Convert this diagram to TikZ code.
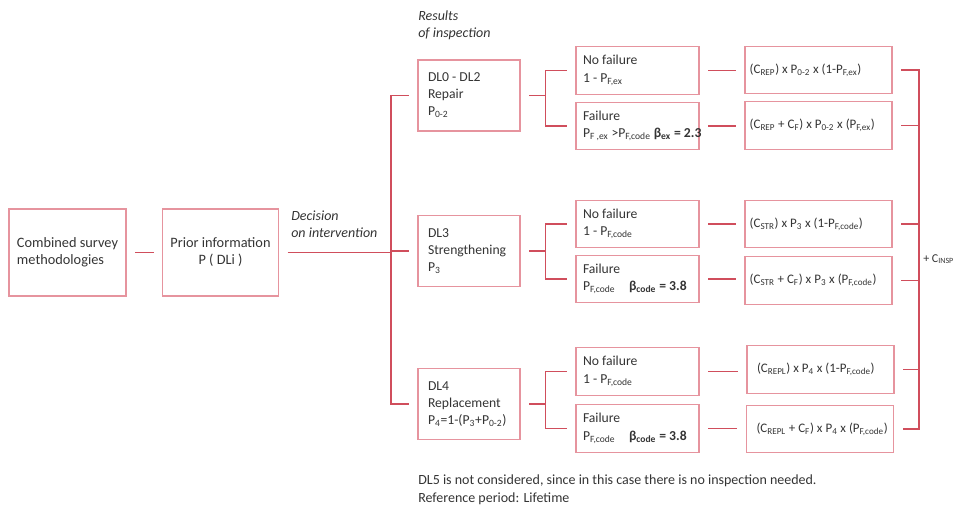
\documentclass[tikz,border=0pt]{standalone}
\usepackage{fontspec}
\setmainfont{Carlito}
\usetikzlibrary{calc}
\definecolor{linkred}{RGB}{208,78,92}
\definecolor{boxred}{RGB}{230,148,158}
\definecolor{textgray}{RGB}{52,52,52}
\tikzset{
  box/.style={
    draw=boxred,
    line width=0.9pt,
    text=textgray,
    outer xsep=7pt,
    outer ysep=0pt,
    inner ysep=1pt
  },
  box-main/.style={box, minimum width=86.5pt, minimum height=65.25pt,
    font=\fontsize{10.75}{12.75}\selectfont},
  box-dl/.style={box, text width=61.5pt, inner xsep=7.5pt, align=flush left,
    minimum height=53.25pt, font=\fontsize{10.25}{12.75}\selectfont},
  box-out/.style={box, text width=81.75pt, inner xsep=5.25pt, align=flush left,
    minimum height=35.6pt, font=\fontsize{10.25}{13}\selectfont},
  box-cost/.style={box, text width=103.25pt, inner xsep=3.5pt, align=flush left,
    minimum height=35.6pt, font=\fontsize{9.75}{12}\selectfont},
  link/.style={draw=linkred, line width=1pt},
  label-it/.style={text=textgray, inner sep=0pt, align=left,
    font=\itshape\fontsize{10.5}{12.75}\selectfont},
  label-note/.style={text=textgray, inner sep=0pt, align=left,
    font=\fontsize{10.5}{13.5}\selectfont}
}

\begin{document}
\begin{tikzpicture}[x=0.75pt, y=-0.75pt]
  \useasboundingbox (0,0) rectangle (958,517);

  % Left part
  \node[box-main, minimum width=87.75pt, align=left] (survey) at (67.5,252.5)
    {Combined survey\\methodologies};
  \node[box-main, align=center] (prior) at (220.5,252.5)
    {Prior information\\P ( DLi )};
  \node[label-it, anchor=north west] (decision) at (291,211)
    {Decision\\on intervention};

  % Damage levels
  \node[label-it, anchor=north west] (results) at (418,11)
    {Results\\of inspection};
  \node[box-dl] (dl0) at (469,95.5) {DL0 - DL2\\Repair\\P\textsubscript{0-2}};
  \node[box-dl] (dl3) at (469,251) {DL3\\Strengthening\\P\textsubscript{3}};
  \node[box-dl] (dl4) at (469,404)
    {DL4\\Replacement\\\mbox{P\textsubscript{4}=1-(P\textsubscript{3}+P\textsubscript{0-2})}};

  % Outcomes
  \node[box-out] (nf0) at (637.5,70.5) {No failure\\1 - P\textsubscript{F,ex}};
  \node[box-out] (f0) at (637.5,126)
    {Failure\\\mbox{P\textsubscript{F ,ex} >P\textsubscript{F,code} \textbf{β\textsubscript{ex} = 2.3}}};
  \node[box-out] (nf3) at (637.5,224) {No failure\\1 - P\textsubscript{F,code}};
  \node[box-out] (f3) at (637.5,279)
    {Failure\\\mbox{P\textsubscript{F,code}\quad\textbf{β\textsubscript{code} = 3.8}}};
  \node[box-out] (nf4) at (637.5,371.5) {No failure\\1 - P\textsubscript{F,code}};
  \node[box-out] (f4) at (637.5,428.5)
    {Failure\\\mbox{P\textsubscript{F,code}\quad\textbf{β\textsubscript{code} = 3.8}}};

  % Costs
  \node[box-cost] (cost-nf0) at (818.5,70)
    {\mbox{(C\textsubscript{REP}) x P\textsubscript{0-2} x (1-P\textsubscript{F,ex})}};
  \node[box-cost] (cost-f0) at (818.5,125.5)
    {\mbox{(C\textsubscript{REP} + C\textsubscript{F}) x P\textsubscript{0-2} x (P\textsubscript{F,ex})}};
  \node[box-cost] (cost-nf3) at (818.5,224)
    {\mbox{(C\textsubscript{STR}) x P\textsubscript{3} x (1-P\textsubscript{F,code})}};
  \node[box-cost] (cost-f3) at (818.5,280.5)
    {\mbox{(C\textsubscript{STR} + C\textsubscript{F}) x P\textsubscript{3} x (P\textsubscript{F,code})}};
  \node[box-cost] (cost-nf4) at (820.5,369.5)
    {\mbox{\hspace{4pt}(C\textsubscript{REPL}) x P\textsubscript{4} x (1-P\textsubscript{F,code})}};
  \node[box-cost] (cost-f4) at (820,429)
    {\mbox{\hspace{4pt}(C\textsubscript{REPL} + C\textsubscript{F}) x P\textsubscript{4} x (P\textsubscript{F,code})}};

  % Connectors
  \coordinate (trunk) at (391,252.5);
  \coordinate (rail) at (919,252);
  \draw[link] (survey) -- (prior);
  \draw[link] (prior) -- (trunk);
  \draw[link] (dl0.west) -| (trunk) |- (dl4.west);
  \draw[link] (dl3.west) -- (dl3.west -| trunk);
  \foreach \g in {0,3,4}{
    \coordinate (br\g) at ($(dl\g.east)+(16,0)$);
    \draw[link] (dl\g.east) -- (br\g);
    \draw[link] (nf\g.west) -| (br\g) |- (f\g.west);
    \draw[link] (nf\g.east) -- (nf\g.east -| cost-nf\g.west);
    \draw[link] (f\g.east) -- (f\g.east -| cost-f\g.west);
  }
  \draw[link] (cost-nf0.east) -| (rail) |- (cost-f4.east);
  \foreach \c in {f0,nf3,f3,nf4}{
    \draw[link] (cost-\c.east) -- (cost-\c.east -| rail);
  }
  \node[text=textgray, anchor=west, inner sep=0pt, font=\fontsize{9}{11}\selectfont]
    (insp) at (923,259) {+ C\textsubscript{INSP}};

  % Note
  \node[label-note, anchor=north west] (note) at (418,475)
    {DL5 is not considered, since in this case there is no inspection needed.\\
     Reference period: Lifetime};
\end{tikzpicture}
\end{document}
